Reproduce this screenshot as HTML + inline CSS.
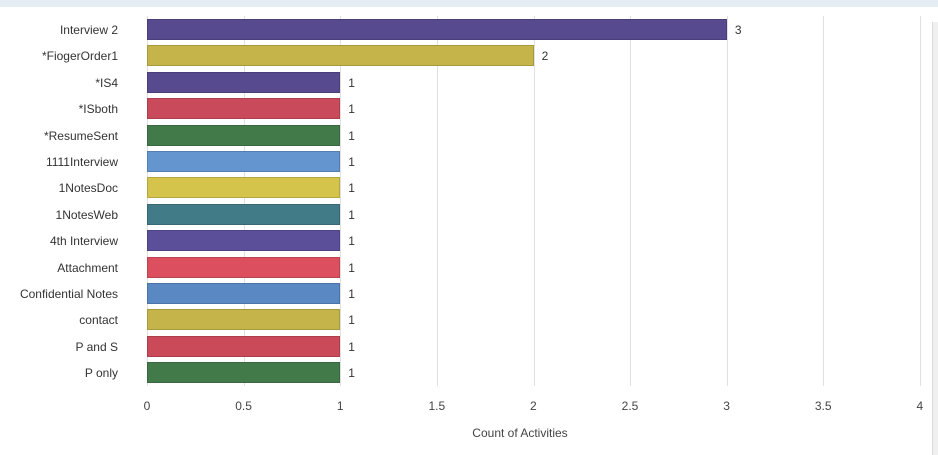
<!DOCTYPE html>
<html><head><style>
body{margin:0;width:938px;height:455px;background:#fff;overflow:hidden;font-family:"Liberation Sans",sans-serif;position:relative}
.top{position:absolute;left:0;top:0;width:938px;height:7px;background:#e6ecf4}
.sb{position:absolute;left:932px;top:22px;width:6px;height:433px;background:#f0f0f0;border-left:1px solid #ddd}
.g{position:absolute;top:16px;height:370px;width:1px;background:#e0e0e0}
.b{position:absolute;left:147px;height:21px;box-sizing:border-box;border:1px solid rgba(0,0,0,.15)}
.l{position:absolute;right:820px;font-size:12px;color:#333;white-space:nowrap;line-height:14px}
.v{position:absolute;font-size:12px;color:#333;line-height:14px}
.t{position:absolute;top:399px;font-size:12px;color:#444;transform:translateX(-50%)}
</style></head><body>
<div class="top"></div><div class="sb"></div>
<div class="g" style="left:147px"></div><div class="g" style="left:244px"></div><div class="g" style="left:340px"></div><div class="g" style="left:437px"></div><div class="g" style="left:534px"></div><div class="g" style="left:630px"></div><div class="g" style="left:727px"></div><div class="g" style="left:823px"></div><div class="g" style="left:920px"></div>
<div id="c"></div>
<script>
var d=[["Interview 2",3,"#574a8e"],["*FiogerOrder1",2,"#c4b449"],["*IS4",1,"#574a8e"],["*ISboth",1,"#c94b5b"],["*ResumeSent",1,"#437a4a"],["1111Interview",1,"#6495cf"],["1NotesDoc",1,"#d4c44c"],["1NotesWeb",1,"#427b88"],["4th Interview",1,"#5b4f99"],["Attachment",1,"#dc4f5e"],["Confidential Notes",1,"#5a88c3"],["contact",1,"#c4b449"],["P and S",1,"#cb4a5a"],["P only",1,"#437a4a"]];
var h="";d.forEach(function(r,i){var y=19+i*26.4,w=r[1]*193.3;
h+='<div class="b" style="top:'+y+'px;width:'+w+'px;background:'+r[2]+'"></div>';
h+='<div class="l" style="top:'+(y+4)+'px">'+r[0]+'</div>';
h+='<div class="v" style="top:'+(y+4)+'px;left:'+(147+w+8)+'px">'+r[1]+'</div>';});
["0","0.5","1","1.5","2","2.5","3","3.5","4"].forEach(function(t,i){h+='<div class="t" style="left:'+(147+i*96.6)+'px">'+t+'</div>';});
h+='<div class="t" style="left:520px;top:426px">Count of Activities</div>';
document.getElementById("c").innerHTML=h;
</script>
</body></html>
